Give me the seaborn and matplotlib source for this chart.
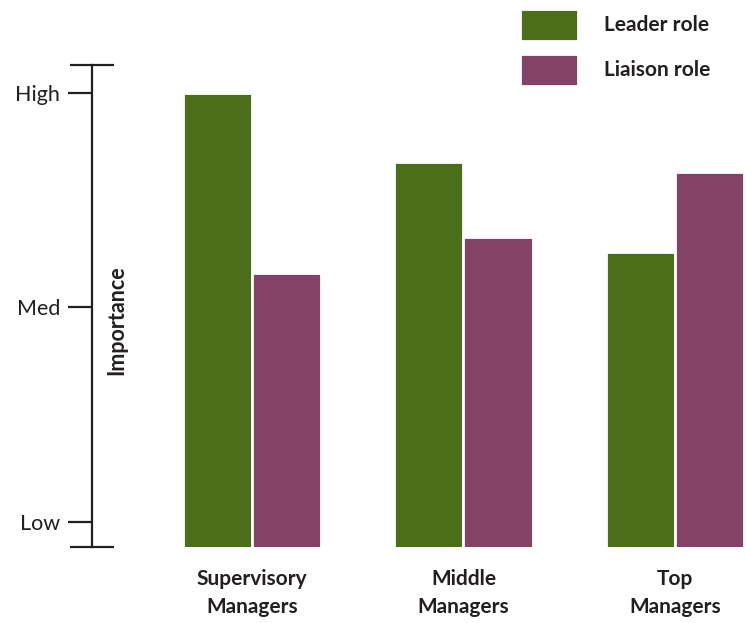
import numpy as np
import pandas as pd
import matplotlib
matplotlib.use("Agg")
import matplotlib.pyplot as plt
import seaborn as sns
from matplotlib.patches import Patch

# data (Low=1, Med=2, High=3)
groups = ["Supervisory\nManagers", "Middle\nManagers", "Top\nManagers"]
roles = ["Leader role", "Liaison role"]
leader_vals = [3.00, 2.68, 2.26]
liaison_vals = [2.16, 2.33, 2.63]
level_pos = [1, 2, 3]
level_names = ["Low", "Med", "High"]

GREEN = "#4b6e1a"
PURPLE = "#834366"
INK = "#231f20"

df = pd.DataFrame({
    "group": groups * 2,
    "role": [roles[0]] * 3 + [roles[1]] * 3,
    "value": leader_vals + liaison_vals,
})

sns.set_theme(style="white")
plt.rcParams["font.family"] = ["Lato", "DejaVu Sans"]

W, H = 746, 623
fig = plt.figure(figsize=(W / 100, H / 100), dpi=100)
ax = fig.add_axes([92 / W, (H - 547) / H, (746 - 92) / W, (547 - 65) / H])

sns.barplot(data=df, x="group", y="value", hue="role", order=groups,
            hue_order=roles, palette=[GREEN, PURPLE], width=0.653,
            saturation=1, edgecolor="white", linewidth=2, ax=ax,
            legend=False)

ymin, ymax = 0.8834, 3.1305
ax.set_ylim(ymin, ymax)
ax.set_xlim(-0.7565, 2.336)

ax.set_yticks(level_pos)
ax.set_yticklabels(level_names, fontsize=15.5, color=INK)
ax.set_yticks([ymin, ymax], minor=True)
ax.tick_params(axis="y", which="major", direction="out", length=17,
               width=1.6, color=INK, pad=6, left=True)
ax.tick_params(axis="y", which="minor", direction="inout", length=32,
               width=1.6, color=INK, left=True)
ax.tick_params(axis="x", length=0, pad=16)
for lab in ax.get_xticklabels():
    lab.set_fontsize(15)
    lab.set_fontweight("bold")
    lab.set_color(INK)
    lab.set_linespacing(1.5)

for side in ["top", "right", "bottom"]:
    ax.spines[side].set_visible(False)
ax.spines["left"].set_color(INK)
ax.spines["left"].set_linewidth(1.6)
ax.set_xlabel("")
ax.set_ylabel("")

fig.text(117 / W, 1 - 320 / H, "Importance", rotation=90, ha="center",
         va="center", fontsize=15.5, fontweight="bold", color=INK)

handles = [Patch(facecolor=GREEN, edgecolor="white", linewidth=2),
           Patch(facecolor=PURPLE, edgecolor="white", linewidth=2)]
leg = fig.legend(handles, roles, loc="upper left",
                 bbox_to_anchor=(520 / W, 1 - 9 / H), frameon=False,
                 borderpad=0, borderaxespad=0, handlelength=2.8,
                 handleheight=1.95, handletextpad=1.25, labelspacing=0.65,
                 prop={"size": 15, "weight": "bold"})
for t in leg.get_texts():
    t.set_color(INK)

fig.savefig("out.png", dpi=100)
